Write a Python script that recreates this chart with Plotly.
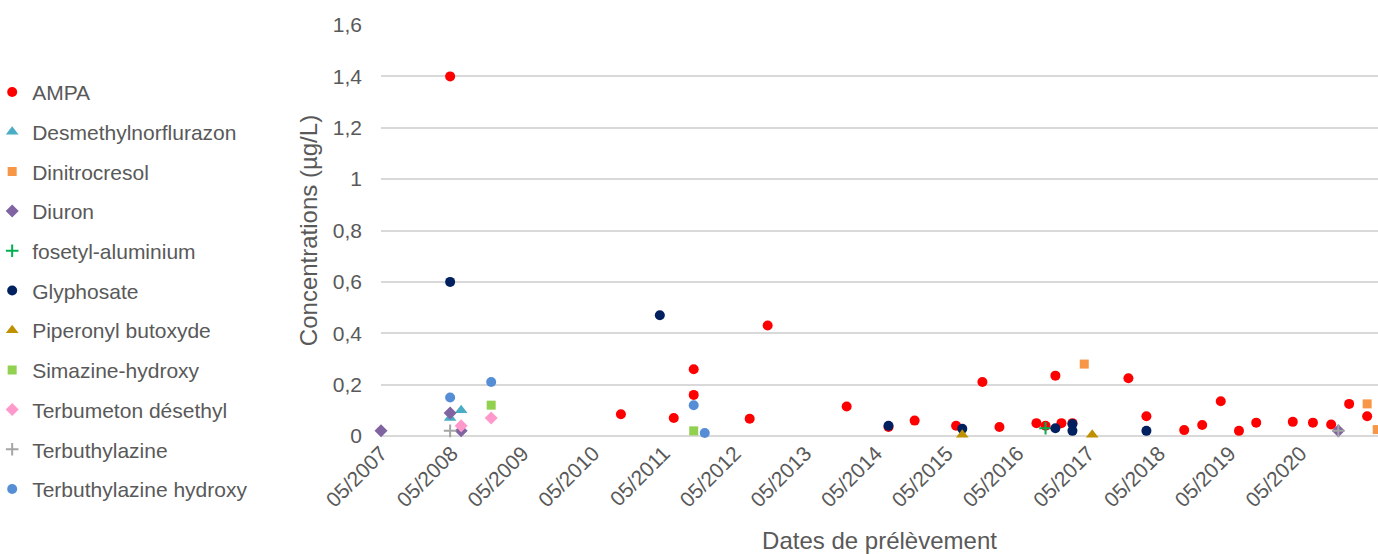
import plotly.graph_objects as go

# ---------------- data ----------------
ampa_dates = ["2008-04-22", "2010-09-21", "2011-06-21", "2011-10-02", "2011-10-02", "2012-07-17",
              "2012-10-18", "2013-11-30", "2014-07-04", "2014-11-16", "2015-06-18", "2015-11-01",
              "2016-01-28", "2016-08-06", "2016-09-22", "2016-11-12", "2016-12-13", "2017-02-08",
              "2017-11-24", "2018-02-25", "2018-09-08", "2018-12-10", "2019-03-16", "2019-06-18",
              "2019-09-15", "2020-03-22", "2020-07-04", "2020-10-06", "2021-01-07", "2021-04-10"]
ampa_values = [1.40, 0.085, 0.07, 0.26, 0.16, 0.067,
               0.43, 0.115, 0.035, 0.06, 0.04, 0.21,
               0.035, 0.05, 0.04, 0.235, 0.05, 0.05,
               0.225, 0.077, 0.023, 0.043, 0.135, 0.02,
               0.052, 0.055, 0.052, 0.045, 0.125, 0.077]

desmethyl_dates = ["2008-04-22", "2008-06-18"]
desmethyl_values = [0.07, 0.10]

dinitro_dates = ["2017-04-10", "2021-04-10", "2021-06-01"]
dinitro_values = [0.28, 0.125, 0.025]

diuron_dates = ["2007-05-01", "2008-04-22", "2008-06-18", "2020-11-12"]
diuron_values = [0.02, 0.09, 0.02, 0.02]

fosetyl_dates = ["2016-09-22"]
fosetyl_values = [0.03]

glypho_dates = ["2008-04-22", "2011-04-10", "2014-07-04", "2015-07-20", "2016-11-12",
                "2017-02-08", "2017-02-08", "2018-02-25"]
glypho_values = [0.60, 0.47, 0.04, 0.028, 0.03, 0.047, 0.02, 0.02]

piperonyl_dates = ["2015-07-20", "2017-05-21"]
piperonyl_values = [0.005, 0.005]

simazine_dates = ["2008-11-20", "2011-10-02"]
simazine_values = [0.12, 0.02]

terbumeton_dates = ["2008-06-18", "2008-11-20"]
terbumeton_values = [0.04, 0.07]

terbuthyl_dates = ["2008-04-22", "2020-11-12"]
terbuthyl_values = [0.02, 0.02]

terbuthyl_hydroxy_dates = ["2008-04-22", "2008-11-20", "2011-10-02", "2011-11-28"]
terbuthyl_hydroxy_values = [0.15, 0.21, 0.12, 0.012]

y_ticks = [0, 0.2, 0.4, 0.6, 0.8, 1.0, 1.2, 1.4, 1.6]
y_ticktext = ["0", "0,2", "0,4", "0,6", "0,8", "1", "1,2", "1,4", "1,6"]

# ---------------- figure ----------------
series = [
    ("AMPA", ampa_dates, ampa_values, "circle", "#FF0000", 10),
    ("Desmethylnorflurazon", desmethyl_dates, desmethyl_values, "triangle-up", "#4BACC6", 11),
    ("Dinitrocresol", dinitro_dates, dinitro_values, "square", "#F79646", 9),
    ("Diuron", diuron_dates, diuron_values, "diamond", "#8064A2", 10),
    ("fosetyl-aluminium", fosetyl_dates, fosetyl_values, "cross-thin", "#00B050", 9),
    ("Glyphosate", glypho_dates, glypho_values, "circle", "#002060", 10),
    ("Piperonyl butoxyde", piperonyl_dates, piperonyl_values, "triangle-up", "#BF9000", 11),
    ("Simazine-hydroxy", simazine_dates, simazine_values, "square", "#92D050", 9),
    ("Terbumeton désethyl", terbumeton_dates, terbumeton_values, "diamond", "#FF99CC", 10),
    ("Terbuthylazine", terbuthyl_dates, terbuthyl_values, "cross-thin", "#A5A5A5", 9),
    ("Terbuthylazine hydroxy", terbuthyl_hydroxy_dates, terbuthyl_hydroxy_values, "circle", "#558ED5", 10),
]

fig = go.Figure()
for name, xs, ys, sym, col, size in series:
    marker = dict(symbol=sym, color=col, size=size)
    if sym == "cross-thin":
        marker["line"] = dict(color=col, width=2)
    else:
        marker["line"] = dict(width=0)
    fig.add_trace(go.Scatter(x=xs, y=ys, mode="markers", name=name, marker=marker,
                             legendgroup=name, cliponaxis=False))

text_col = "#595959"
fig.update_layout(
    width=1378, height=554,
    margin=dict(l=381, r=0, t=25, b=118, autoexpand=False),
    plot_bgcolor="white", paper_bgcolor="white",
    font=dict(family="Liberation Sans, Arial, sans-serif", size=21, color=text_col),
    showlegend=True,
    legend=dict(x=-0.390, xanchor="left", y=0.886, yanchor="top",
                font=dict(size=21, color=text_col), tracegroupgap=9.4,
                maxheight=550, bgcolor="rgba(0,0,0,0)"),
    xaxis=dict(
        type="date", automargin=False,
        range=["2007-05-01", "2021-06-05"],
        tick0="2007-05-01", dtick="M12", tickformat="%m/%Y",
        tickangle=-45, showgrid=False, showline=False, zeroline=False,
        ticks="", tickfont=dict(size=21, color=text_col),
        title=dict(text="Dates de prélèvement", font=dict(size=24, color=text_col), standoff=21),
    ),
    yaxis=dict(
        range=[0, 1.6], tickvals=y_ticks, ticktext=y_ticktext, automargin=False,
        showgrid=True, gridcolor="#D9D9D9", gridwidth=1.5,
        zeroline=True, zerolinecolor="#D9D9D9", zerolinewidth=1.5,
        showline=False, ticks="", ticklabelstandoff=18,
        tickfont=dict(size=21, color=text_col),
        title=dict(text="Concentrations (µg/L)", font=dict(size=24, color=text_col), standoff=8),
    ),
)

# remove the page's default body margin so the 1378x554 figure fills the window exactly
fig.write_html("out.html",
               config={"displayModeBar": False},
               post_script="document.body.style.margin='0';document.body.style.overflow='hidden';")
